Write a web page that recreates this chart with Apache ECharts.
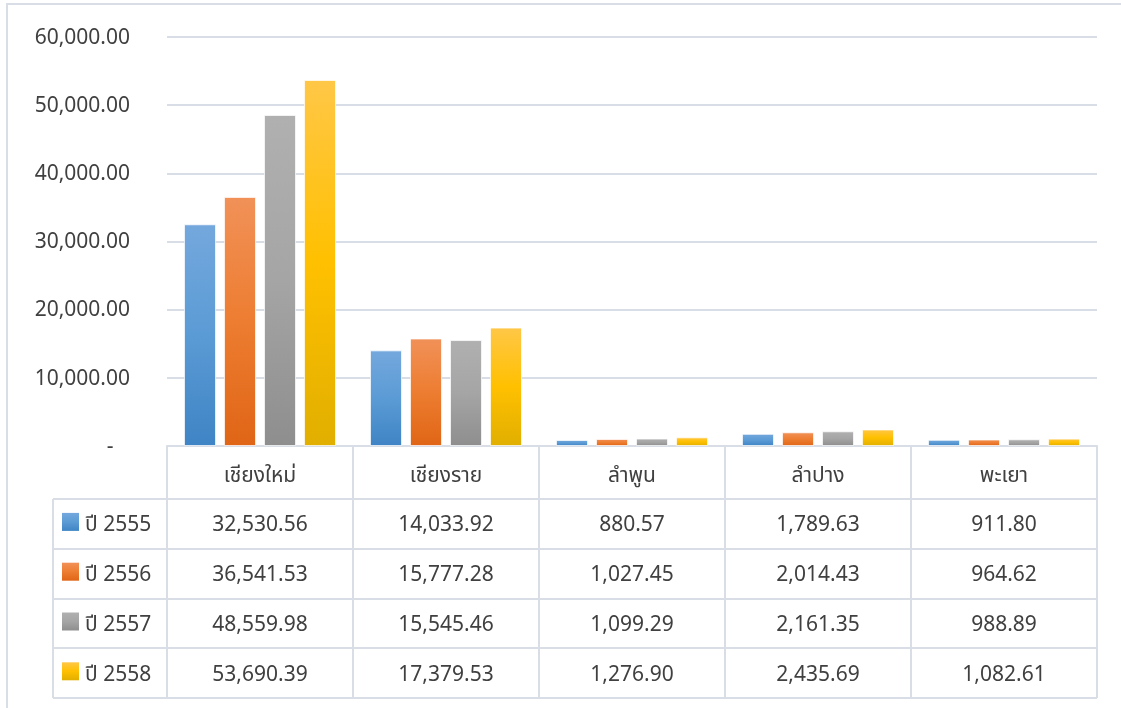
<!DOCTYPE html>
<html>
<head>
<meta charset="utf-8">
<script src="https://cdn.jsdelivr.net/npm/echarts@6/dist/echarts.min.js"></script>
<style>
  html, body { margin: 0; padding: 0; background: #ffffff; }
  #chart { width: 1121px; height: 708px; }
</style>
</head>
<body>
<div id="chart"></div>
<script>
// Provinces and yearly values (shown both as bars and in the data table)
const categories = ['เชียงใหม่', 'เชียงราย', 'ลำพูน', 'ลำปาง', 'พะเยา'];
const seriesNames = ['ปี 2555', 'ปี 2556', 'ปี 2557', 'ปี 2558'];
const v2555 = [32530.56, 14033.92, 880.57, 1789.63, 911.80];
const v2556 = [36541.53, 15777.28, 1027.45, 2014.43, 964.62];
const v2557 = [48559.98, 15545.46, 1099.29, 2161.35, 988.89];
const v2558 = [53690.39, 17379.53, 1276.90, 2435.69, 1082.61];
const yMax = 60000;
const yStep = 10000;

const allValues = [v2555, v2556, v2557, v2558];
const FONT = "'Noto Sans Thai', 'Leelawadee UI', 'Noto Sans', 'DejaVu Sans', sans-serif";
const TEXT = '#404040';
const LINE = '#D9DEE6';

// top / middle / bottom tones for each series gradient
const tones = [
  ['#74A8DD', '#5B9BD5', '#3F84C5'],
  ['#F19158', '#ED7D31', '#E06516'],
  ['#B0B0B0', '#A5A5A5', '#8E8E8E'],
  ['#FFC747', '#FFC000', '#E1AF00']
];
function grad(t) {
  return new echarts.graphic.LinearGradient(0, 0, 0, 1, [
    { offset: 0, color: t[0] },
    { offset: 0.5, color: t[1] },
    { offset: 1, color: t[2] }
  ]);
}
function fmt(v) {
  return v.toLocaleString('en-US', { minimumFractionDigits: 2, maximumFractionDigits: 2 });
}

const GRID_L = 167, GRID_R = 24, GRID_T = 37, GRID_B = 262;
const chart = echarts.init(document.getElementById('chart'), null, { renderer: 'canvas' });

const option = {
  animation: false,
  backgroundColor: '#ffffff',
  grid: { left: GRID_L, right: GRID_R, top: GRID_T, bottom: GRID_B, containLabel: false },
  xAxis: {
    type: 'category',
    data: categories,
    boundaryGap: true,
    axisLine: { show: true, lineStyle: { color: LINE, width: 2 } },
    // ticks at the category boundaries form the table's column rules
    axisTick: { show: true, length: 252, lineStyle: { color: LINE, width: 2 } },
    axisLabel: {
      margin: 21,
      color: TEXT,
      fontFamily: FONT,
      fontSize: 21
    }
  },
  yAxis: {
    type: 'value',
    min: 0,
    max: yMax,
    interval: yStep,
    axisLine: { show: false },
    axisTick: { show: false },
    splitLine: { lineStyle: { color: LINE, width: 2 } },
    axisLabel: {
      margin: 37,
      color: TEXT,
      fontFamily: FONT,
      fontSize: 21,
      verticalAlign: 'top',
      lineHeight: 21,
      padding: [-8, 0, 0, 0],
      formatter: v => v === 0 ? '-   ' : fmt(v)
    }
  },
  series: allValues.map((vals, i) => ({
    name: seriesNames[i],
    type: 'bar',
    data: vals,
    barWidth: 32,
    barGap: '25%',
    itemStyle: {
      color: grad(tones[i]),
      borderColor: 'rgba(255,255,255,0.45)',
      borderWidth: 1
    }
  }))
};
chart.setOption(option);

// Data table below the plot
const rowTop = 499, rowH = 49.8, tableLeft = 53, tableRight = 1097;
const g = [];
// chart frame (top and left edges)
g.push({ type: 'rect', shape: { x: 7, y: 4, width: 1200, height: 760 },
  style: { fill: 'none', stroke: LINE, lineWidth: 2 }, silent: true });
for (let r = 0; r <= seriesNames.length; r++) {
  const y = Math.round(rowTop + r * rowH);
  g.push({ type: 'line', shape: { x1: tableLeft, y1: y, x2: tableRight, y2: y },
    style: { stroke: LINE, lineWidth: 2 }, silent: true });
}
g.push({ type: 'line', shape: { x1: tableLeft, y1: rowTop, x2: tableLeft, y2: Math.round(rowTop + 4 * rowH) },
  style: { stroke: LINE, lineWidth: 2 }, silent: true });

seriesNames.forEach((name, r) => {
  const cy = rowTop + r * rowH + rowH / 2;
  g.push({ type: 'rect', shape: { x: 62, y: cy - 11, width: 17, height: 18 },
    style: { fill: grad(tones[r]) }, silent: true });
  g.push({ type: 'text', x: 85, y: cy + 3, silent: true,
    style: { text: name, fill: TEXT, font: '21px ' + FONT, align: 'left', verticalAlign: 'middle' } });
  allValues[r].forEach((v, c) => {
    const px = chart.convertToPixel({ xAxisIndex: 0 }, c);
    g.push({ type: 'text', x: px, y: cy + 3, silent: true,
      style: { text: fmt(v), fill: TEXT, font: '21px ' + FONT, align: 'center', verticalAlign: 'middle' } });
  });
});
chart.setOption({ graphic: { elements: g } });
</script>
</body>
</html>
